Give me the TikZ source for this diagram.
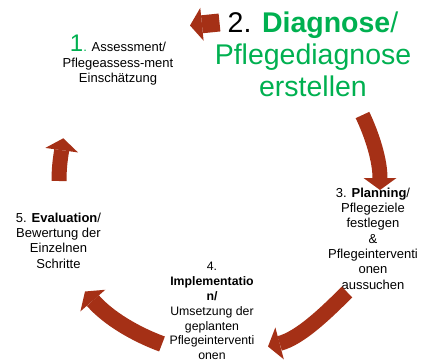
\documentclass[tikz,border=0pt]{standalone}
\usepackage{fontspec}
\setmainfont{Liberation Sans}
\usepackage{tikz}
\usetikzlibrary{arrows.meta}

\definecolor{arrowred}{RGB}{165,48,22}
\definecolor{stepgreen}{RGB}{0,176,80}

\begin{document}
\begin{tikzpicture}[x=1pt, y=-1pt,
	stepnode/.style={align=center, inner sep=0pt, anchor=base, text=black,
		font=\fontsize{13}{15.3}\selectfont},
	cyclearrow/.style={draw=arrowred, line width=15pt,
		-{Triangle[width=33pt, length=12pt, line width=0pt, fill=arrowred]}}]
	
	\useasboundingbox (0,0) rectangle (421,361);
	
	% --- Schritte (Lage: Grundlinie der letzten Zeile) ---
	\node[stepnode] (assess) at (118,83)
	{{\color{stepgreen}{\fontsize{24}{24}\selectfont 1}.} Assessment/\\[1pt]Pflegeassess-ment\\Einschätzung};
	
	\node[stepnode, text=stepgreen, font=\fontsize{28.5}{32.5}\selectfont] (diag) at (313,97)
	{\textcolor{black}{2.} \textbf{Diagnose}/\\Pflegediagnose\\erstellen};
	
	\node[stepnode] (plan) at (373,289)
	{3. \textbf{Planning}/\\Pflegeziele\\festlegen\\\&\\Pflegeinterventi\\onen\\aussuchen};
	
	\node[stepnode, font=\fontsize{12.3}{14.85}\selectfont] (impl) at (212,359.8)
	{4.\\\textbf{Implementatio}\\\textbf{n/}\\Umsetzung der\\geplanten\\Pflegeinterventi\\onen};
	
	\node[stepnode] (eval) at (58.5,268)
	{5. \textbf{Evaluation}/\\Bewertung der\\Einzelnen\\Schritte};
	
	% --- Pfeile ---
	\coordinate (diagtail) at (219.5,22.5);
	\coordinate (diagtip) at (190,25.5);
	\coordinate (plantail) at (362.5,115);
	\coordinate (plantip) at (380,190);
	\coordinate (impltail) at (347,292);
	\coordinate (impltip) at (268,346.5);
	\coordinate (evaltail) at (162,344);
	\coordinate (evaltip) at (85,291.5);
	\coordinate (asstail) at (59,181);
	\coordinate (asstip) at (63.3,138.3);
	
	\draw[cyclearrow, line width=18pt] (diagtail) -- (diagtip);
	\draw[cyclearrow] (plantail) .. controls (372,135) and (380,160) .. (plantip);
	\draw[cyclearrow] (impltail) .. controls (325,314) and (300,338) .. (impltip);
	\draw[cyclearrow, line width=16pt] (evaltail) .. controls (135,334) and (108,318) .. (evaltip);
	\draw[cyclearrow] (asstail) .. controls (59,165) and (61,155) .. (asstip);
	
\end{tikzpicture}
\end{document}
